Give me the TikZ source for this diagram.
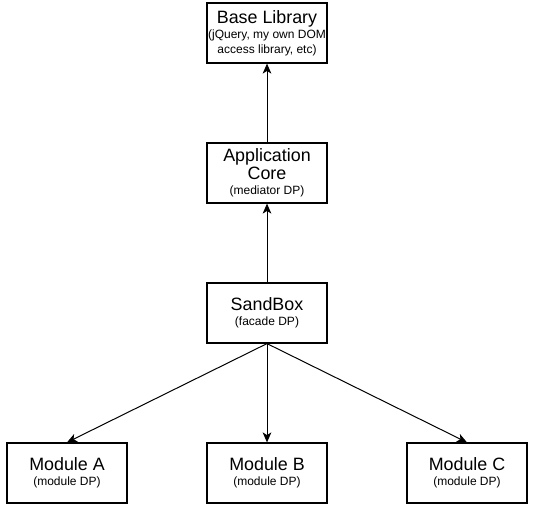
\documentclass[tikz,border=0pt]{standalone}
\usepackage{fontspec}
\setmainfont{Liberation Sans}
\usetikzlibrary{arrows.meta}

\newcommand{\titlesize}{\fontsize{13.4}{16}\selectfont}
\newcommand{\notesize}{\fontsize{9}{11.25}\selectfont}

\tikzset{
  modbox/.style={draw,line width=0.9pt,align=center,font=\notesize,
    minimum width=90pt,minimum height=45pt,inner sep=0pt},
  link/.style={->,>={Stealth[length=7.5pt,width=6.5pt,inset=2pt]},line width=0.75pt}
}

\begin{document}
\begin{tikzpicture}[x=0.75pt,y=-0.75pt]
  \useasboundingbox (0,0) rectangle (535,514);
  %\draw[step=20,gray,very thin] (0,0) grid (535,514);

  \node[modbox] (base) at (267,33) {{\titlesize Base Library}\\(jQuery, my own DOM\\access library, etc)};
  \node[modbox] (core) at (267,173) {{\titlesize Application}\\{\titlesize Core}\\(mediator DP)};
  \node[modbox] (sandbox) at (267,313) {{\titlesize SandBox}\\(facade DP)};

  \node[modbox] (modA) at (67,473) {{\titlesize Module A}\\(module DP)};
  \node[modbox] (modB) at (267,473) {{\titlesize Module B}\\(module DP)};
  \node[modbox] (modC) at (467,473) {{\titlesize Module C}\\(module DP)};

  \draw[link] (core) -- (base);
  \draw[link] (sandbox) -- (core);
  \draw[link] (sandbox.south) -- (modA.north);
  \draw[link] (sandbox.south) -- (modB.north);
  \draw[link] (sandbox.south) -- (modC.north);
\end{tikzpicture}
\end{document}
